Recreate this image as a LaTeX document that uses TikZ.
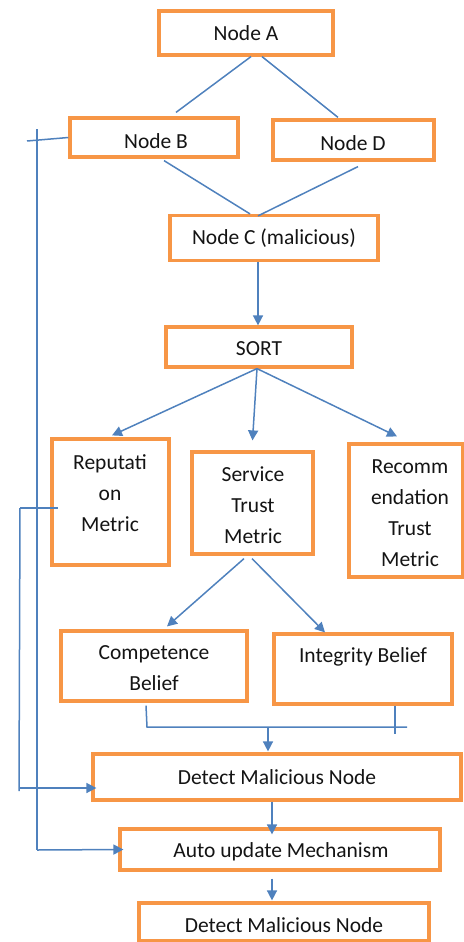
\documentclass[tikz,border=0pt]{standalone}
\usepackage{fontspec}
\setmainfont{Carlito}
\usetikzlibrary{arrows.meta,calc}
\definecolor{boxorange}{RGB}{247,150,70}
\definecolor{lineblue}{RGB}{79,129,189}
\begin{document}
\begin{tikzpicture}[x=1pt,y=1pt,
  box/.style={draw=boxorange,line width=3.2pt,inner sep=0pt,fill=white},
  txt/.style={align=center,font=\fontsize{21.5}{31}\selectfont,text=black!92},
  conn/.style={draw=lineblue,line width=1.5pt},
  arr/.style={conn,-{Triangle[length=10pt,width=10pt]}}]
\useasboundingbox (0,0) rectangle (463,-942);
% boxes
\node[box,minimum width=174,minimum height=44] (A) at (246,-33) {};
\node[box,minimum width=168,minimum height=39] (B) at (154,-137.5) {};
\node[box,minimum width=161,minimum height=40] (D) at (353.5,-140) {};
\node[box,minimum width=208,minimum height=45] (C) at (274,-238) {};
\node[box,minimum width=186,minimum height=40] (S) at (259,-347) {};
\node[box,minimum width=117,minimum height=126] (R) at (110.5,-502) {};
\node[box,minimum width=121,minimum height=102] (V) at (252.5,-503) {};
\node[box,minimum width=114,minimum height=133] (M) at (406,-510.5) {};
\node[box,minimum width=186,minimum height=70] (P) at (154,-666) {};
\node[box,minimum width=178,minimum height=70] (I) at (363,-669) {};
\node[box,minimum width=368,minimum height=46] (E) at (277,-777) {};
\node[box,minimum width=320,minimum height=41] (U) at (280,-849.5) {};
\node[box,minimum width=290,minimum height=38] (F) at (284,-922) {};
% texts
\node[txt] (tA) at (246,-33) {Node A};
\node[txt] (tB) at (156,-141) {Node B};
\node[txt] (tD) at (353,-143) {Node D};
\node[txt] (tC) at (274,-238) {Node C (malicious)};
\node[txt] (tS) at (259,-349) {SORT};
\node[txt] (tR) at (110,-493) {Reputati\\on\\Metric};
\node[txt] (tV) at (253,-505) {Service\\Trust\\Metric};
\node[txt] (tM) at (410,-513.5) {Recomm\\endation\\Trust\\Metric};
\node[txt] (tP) at (154,-668) {Competence\\Belief};
\node[txt] (tI) at (363,-657) {Integrity Belief};
\node[txt] (tE) at (277,-777) {Detect Malicious Node};
\node[txt] (tU) at (281,-852) {Auto update Mechanism};
\node[txt] (tF) at (284,-925) {Detect Malicious Node};
% top connectors
\draw[conn] ($(A.south)+(5,0)$) -- ($(B.north)+(22,4)$);
\draw[conn] ($(A.south)+(16,0)$) -- ($(D.north)+(-15.5,1)$);
\draw[conn] ($(B.south)+(10,-2)$) -- ($(C.north)+(-24,0)$);
\draw[conn] ($(D.south)+(4.5,-5)$) -- ($(C.north)+(-16,-2)$);
\draw[arr] ($(C.south)+(-16,0)$) -- ($(S.north)+(-1,0)$);
% fan from SORT
\coordinate (s0) at ($(S.south)+(-2,0)$);
\draw[arr] (s0) -- ($(R.north)+(1.5,2)$);
\draw[arr] (s0) -- ($(V.north)+(0,10)$);
\draw[arr] (s0) -- ($(M.north)+(-9,6)$);
% service to beliefs
\draw[arr] ($(V.south)+(-8.5,-3)$) -- ($(P.north)+(13,3)$);
\draw[arr] ($(V.south)+(-0.5,-3)$) -- ($(I.north)+(-38,0)$);
% join
\coordinate (j1) at (147,-727);
\coordinate (j2) at (407,-727);
\draw[conn] ($(P.south)+(-8,-3)$) -- (j1) -- (j2);
\draw[conn] ($(I.south)+(32,0)$) -- ++(0,-28);
\draw[arr] (268,-727) -- ($(E.north)+(-9,1)$);
% lower chain
\draw[arr] ($(E.south)+(-5,0)$) -- ($(U.north)+(-8,-7)$);
\draw[arr] ($(U.south)+(-8,-7)$) -- ($(F.north)+(-12,1)$);
% outer left loop from Reputation
\coordinate (o1) at (20,-508);
\coordinate (o2) at (19,-791);
\coordinate (o3) at (19,-788);
\draw[conn] (o1) -- ($(R.west)+(8,-6)$);
\draw[conn] (o1) -- (o2);
\draw[arr] (o3) -- ($(E.west)+(5,-11)$);
% inner left loop from Node B
\coordinate (i1) at (37,-129);
\coordinate (i2) at (37,-850);
\coordinate (i3) at (27,-141);
\draw[conn] (i3) -- (B.west);
\draw[conn] (i1) -- (i2);
\draw[arr] (i2) -- ($(U.west)+(5,0)$);
\end{tikzpicture}
\end{document}
